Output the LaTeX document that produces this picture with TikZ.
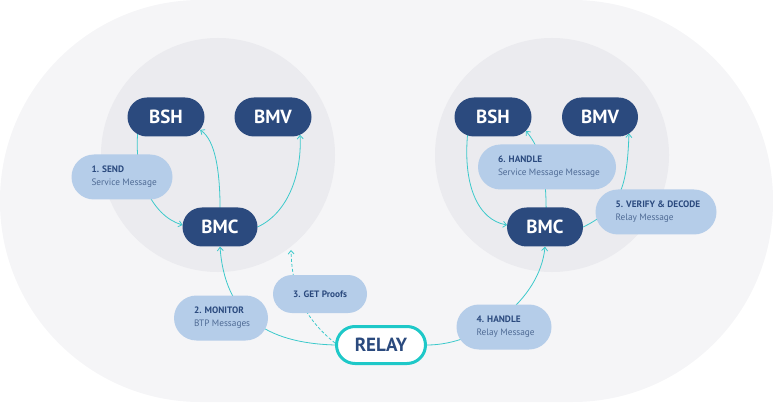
\documentclass[tikz,border=0pt]{standalone}
\usepackage{fontspec}
\setmainfont{PT Sans}
\usetikzlibrary{arrows.meta,calc}
\definecolor{navy}{HTML}{2B4A7E}
\definecolor{lblue}{HTML}{B5CDE9}
\definecolor{tealc}{HTML}{3CC9CB}
\definecolor{relayc}{HTML}{1EC8C8}
\definecolor{outerbg}{HTML}{F5F5F7}
\definecolor{innerbg}{HTML}{EBEBEF}
\definecolor{subtxt}{HTML}{4F6B95}
\pgfdeclarelayer{bg}
\pgfdeclarelayer{mid}
\pgfsetlayers{bg,mid,main}
\tikzset{
  dark/.style={fill=navy, text=white, font=\bfseries\fontsize{19}{19}\selectfont,
    minimum width=77pt, minimum height=39pt, rounded corners=19.5pt, inner sep=0pt},
  relaybox/.style={draw=relayc, line width=3pt, fill=white, text=navy,
    font=\bfseries\fontsize{19}{19}\selectfont,
    minimum width=89pt, minimum height=37pt, rounded corners=18.5pt, inner sep=0pt},
  lblbox/.style={fill=lblue, rounded corners=22.5pt, minimum height=45pt, inner sep=0pt},
  lbltext/.style={anchor=west, inner sep=0pt, align=left, text=subtxt,
    font=\fontsize{9.3}{13}\selectfont},
  conn/.style={draw=tealc, line width=0.8pt, -{Straight Barb[length=3.5pt,width=6pt]}},
  dconn/.style={conn, dash pattern=on 3pt off 2pt}
}
\newcommand{\hd}[1]{\textcolor{navy}{\bfseries #1}}
\begin{document}
\begin{tikzpicture}[x=1pt,y=-1pt]
\useasboundingbox (0,0) rectangle (773,403);
\begin{pgfonlayer}{bg}
  \fill[outerbg, rounded corners=200.5pt] (0,0) rectangle (773,402);
  \fill[innerbg] (218,155) circle[radius=117pt];
  \fill[innerbg] (552,155) circle[radius=117pt];
\end{pgfonlayer}

% main nodes
\node[dark] (bshL) at (166,117) {BSH};
\node[dark] (bmvL) at (273,117) {BMV};
\node[dark, minimum width=75pt] (bmcL) at (220,227) {BMC};
\node[dark] (bshR) at (493,117) {BSH};
\node[dark, minimum width=76pt] (bmvR) at (600,117) {BMV};
\node[dark, minimum width=76pt] (bmcR) at (545,227) {BMC};
\node[relaybox] (relay) at (381,345) {RELAY};

% label boxes
\node[lblbox, minimum width=101pt] (send) at (122,177) {};
\node[lblbox, minimum width=94pt] (monitor) at (221,318) {};
\node[lblbox, minimum width=94pt, minimum height=38pt, rounded corners=19pt] (getp) at (320,294) {};
\node[lblbox, minimum width=95pt] (handle4) at (504,327) {};
\node[lblbox, minimum width=121pt] (verify) at (656,212) {};
\node[lblbox, minimum width=138pt] (handle6) at (547,167) {};
% label texts
\node[lbltext] (sendt) at ($(send.west)+(20,0)$) {\hd{1. SEND}\\Service Message};
\node[lbltext] (monitort) at ($(monitor.west)+(20,0)$) {\hd{2. MONITOR}\\BTP Messages};
\node[lbltext] (getpt) at ($(getp.west)+(20,0)$) {\hd{3. GET Proofs}};
\node[lbltext] (handle4t) at ($(handle4.west)+(20,0)$) {\hd{4. HANDLE}\\Relay Message};
\node[lbltext] (verifyt) at ($(verify.west)+(20,0)$) {\hd{5. VERIFY \& DECODE}\\Relay Message};
\node[lbltext] (handle6t) at ($(handle6.west)+(20,0)$) {\hd{6. HANDLE}\\Service Message Message};

\coordinate (gp) at (291,250);

\begin{pgfonlayer}{mid}
  % left
  \draw[conn] ($(bshL)+(-28,13)$) .. controls (133,175) and (152,216) .. ($(bmcL)+(-37.4,-2)$);
  \draw[conn] ($(bmcL)+(0,-5)$) .. controls (221,170) and (215,140) .. ($(bshL)+(34.1,12.9)$);
  \draw[conn] ($(bmcL)+(37.5,0)$) .. controls (290,212) and (302,170) .. ($(bmvL)+(27,17.8)$);
  \draw[conn] (relay.west) .. controls (265,343) and (225,315) .. (bmcL.south);
  \draw[dconn] ($(relay.west)+(0,-2)$) .. controls (300,315) and (292,285) .. (gp);
  % right
  \draw[conn] ($(bshR)+(-25,13)$) .. controls (462,185) and (478,220) .. ($(bmcR)+(-37.9,-2)$);
  \draw[conn] ($(bmcR)+(1,-5)$) .. controls (547,175) and (542,150) .. ($(bshR)+(32.8,13.8)$);
  \draw[conn] (bmcR.east) .. controls (622,208) and (627,185) .. ($(bmvR)+(29,16.4)$);
  \draw[conn] (relay.east) .. controls (480,345) and (540,300) .. (bmcR.south);
\end{pgfonlayer}
\end{tikzpicture}
\end{document}
